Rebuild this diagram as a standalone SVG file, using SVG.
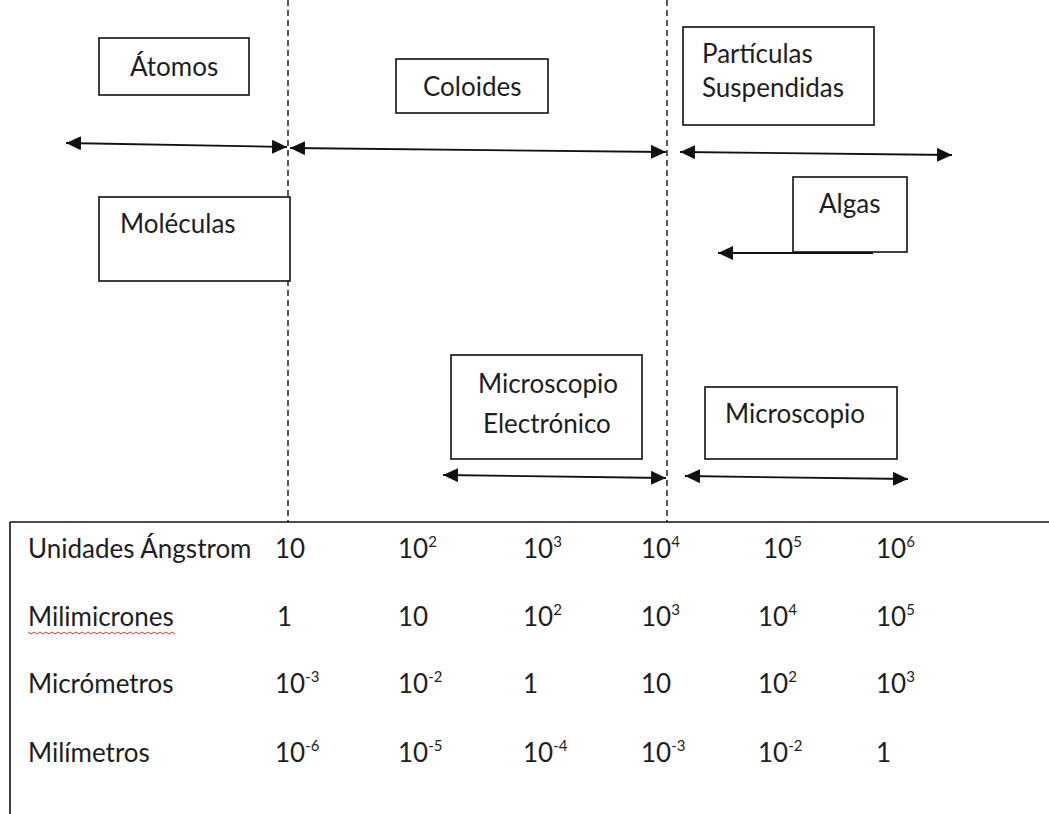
<svg xmlns="http://www.w3.org/2000/svg" width="1049" height="814" viewBox="0 0 1049 814">
<style>
.box{fill:#fff;stroke:#111;stroke-width:1.6}
.t{font-family:Lato,"Open Sans","Liberation Sans",sans-serif;font-size:26px;fill:#1e1e1e}
.sup{font-size:15px}
.dash{stroke:#111;stroke-width:1.4;stroke-dasharray:6 4;fill:none}
.arr{stroke:#111;stroke-width:1.8;fill:none}
.rule{stroke:#111;stroke-width:1.6;fill:none}
</style>
<defs>
<marker id="ah" markerUnits="userSpaceOnUse" markerWidth="16" markerHeight="14" refX="15" refY="7" orient="auto-start-reverse">
<path d="M0,0 L15,7 L0,14 Z" fill="#111"/>
</marker>
</defs>
<rect width="1049" height="814" fill="#fff"/>

<g id="guides">
<line class="dash" x1="288" y1="0" x2="288" y2="522"/>
<line class="dash" x1="667" y1="0" x2="667" y2="522"/>
</g>

<g id="atomos"><rect class="box" x="99" y="38" width="150" height="57"/><text class="t" x="130" y="76">Átomos</text></g>
<g id="moleculas"><rect class="box" x="99" y="197" width="191" height="84"/><text class="t" x="120" y="233">Moléculas</text></g>
<g id="coloides"><rect class="box" x="396" y="59" width="152" height="54"/><text class="t" x="423" y="96">Coloides</text></g>
<g id="particulas"><rect class="box" x="683" y="27" width="191" height="98"/><text class="t" x="702" y="63">Partículas</text><text class="t" x="702" y="97">Suspendidas</text></g>
<g id="algas"><rect class="box" x="793" y="177" width="114" height="75"/><text class="t" x="819" y="213">Algas</text></g>
<g id="micro-electronico"><rect class="box" x="451" y="355" width="191" height="104"/><text class="t" x="478" y="393">Microscopio</text><text class="t" x="483" y="433">Electrónico</text></g>
<g id="microscopio"><rect class="box" x="705" y="387" width="192" height="72"/><text class="t" x="725" y="423">Microscopio</text></g>

<g id="connectors">
<line class="arr" x1="66" y1="143" x2="287" y2="147" marker-start="url(#ah)" marker-end="url(#ah)"/>
<line class="arr" x1="290" y1="148" x2="666" y2="152" marker-start="url(#ah)" marker-end="url(#ah)"/>
<line class="arr" x1="680" y1="152" x2="952" y2="155" marker-start="url(#ah)" marker-end="url(#ah)"/>
<line class="arr" x1="718" y1="253" x2="873" y2="253" marker-start="url(#ah)"/>
<line class="arr" x1="443" y1="475" x2="666" y2="478" marker-start="url(#ah)" marker-end="url(#ah)"/>
<line class="arr" x1="685" y1="476" x2="908" y2="479" marker-start="url(#ah)" marker-end="url(#ah)"/>
</g>

<g id="table">
<line class="rule" x1="10" y1="522" x2="1049" y2="522"/>
<line class="rule" x1="10" y1="522" x2="10" y2="814"/>
<text class="t" x="28" y="558">Unidades Ángstrom</text>
<text class="t" x="28" y="626">Milimicrones</text>
<path d="M28,632 l3,2 l3,-2 l3,2 l3,-2 l3,2 l3,-2 l3,2 l3,-2 l3,2 l3,-2 l3,2 l3,-2 l3,2 l3,-2 l3,2 l3,-2 l3,2 l3,-2 l3,2 l3,-2 l3,2 l3,-2 l3,2 l3,-2 l3,2 l3,-2 l3,2 l3,-2 l3,2 l3,-2 l3,2 l3,-2 l3,2 l3,-2 l3,2 l3,-2 l3,2 l3,-2 l3,2 l3,-2 l3,2 l3,-2 l3,2 l3,-2 l3,2 l3,-2 l3,2 l3,-2 l3,2" fill="none" stroke="#e03030" stroke-width="1"/>
<text class="t" x="28" y="693">Micrómetros</text>
<text class="t" x="28" y="762">Milímetros</text>

<text class="t" x="275" y="558">10</text>
<text class="t" x="398" y="558">10<tspan class="sup" dy="-11">2</tspan></text>
<text class="t" x="523" y="558">10<tspan class="sup" dy="-11">3</tspan></text>
<text class="t" x="641" y="558">10<tspan class="sup" dy="-11">4</tspan></text>
<text class="t" x="763" y="558">10<tspan class="sup" dy="-11">5</tspan></text>
<text class="t" x="876" y="558">10<tspan class="sup" dy="-11">6</tspan></text>

<text class="t" x="277" y="626">1</text>
<text class="t" x="398" y="626">10</text>
<text class="t" x="523" y="626">10<tspan class="sup" dy="-11">2</tspan></text>
<text class="t" x="641" y="626">10<tspan class="sup" dy="-11">3</tspan></text>
<text class="t" x="758" y="626">10<tspan class="sup" dy="-11">4</tspan></text>
<text class="t" x="876" y="626">10<tspan class="sup" dy="-11">5</tspan></text>

<text class="t" x="275" y="693">10<tspan class="sup" dy="-11">-3</tspan></text>
<text class="t" x="398" y="693">10<tspan class="sup" dy="-11">-2</tspan></text>
<text class="t" x="523" y="693">1</text>
<text class="t" x="641" y="693">10</text>
<text class="t" x="758" y="693">10<tspan class="sup" dy="-11">2</tspan></text>
<text class="t" x="876" y="693">10<tspan class="sup" dy="-11">3</tspan></text>

<text class="t" x="275" y="762">10<tspan class="sup" dy="-11">-6</tspan></text>
<text class="t" x="398" y="762">10<tspan class="sup" dy="-11">-5</tspan></text>
<text class="t" x="523" y="762">10<tspan class="sup" dy="-11">-4</tspan></text>
<text class="t" x="641" y="762">10<tspan class="sup" dy="-11">-3</tspan></text>
<text class="t" x="758" y="762">10<tspan class="sup" dy="-11">-2</tspan></text>
<text class="t" x="876" y="762">1</text>
</g>
</svg>
